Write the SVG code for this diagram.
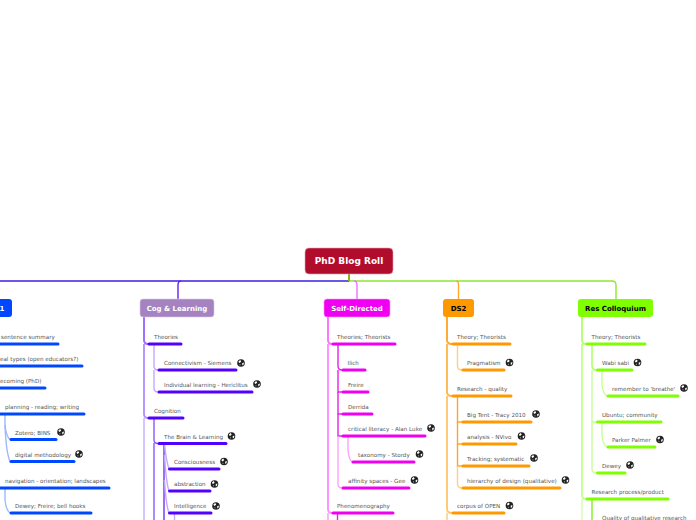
<svg xmlns="http://www.w3.org/2000/svg" width="696" height="520" viewBox="0 0 696 520">
<style>
text{font-family:"DejaVu Sans","Liberation Sans",sans-serif}
.t{font-size:5.6px;fill:#555}
.b{font-size:7px;font-weight:bold;text-anchor:middle;fill:#fff}
.k{fill:#000}
.u{stroke-width:3;stroke-linecap:round;fill:none}
.c{fill:none;stroke-width:1.4}
.w{stroke-width:1.9}
.ub{stroke:#0048ff}.up{stroke:#5200ff}.um{stroke:#f000f0}.uo{stroke:#ff9900}.ug{stroke:#80ff00}
.lb{stroke:#9db8ff}.lp{stroke:#c4a8ff}.lm{stroke:#ffa0ff}.lo{stroke:#ffcf85}.lg{stroke:#c8ff96}
.sb{stroke:#2a66ff}.sp{stroke:#7030ff}.sm{stroke:#e820e8}.so{stroke:#ffa52a}.sg{stroke:#80f020}
</style>
<defs>
<g id="g"><circle r="3.8" fill="#222"/><path d="M-2.6-1.6 L-.8-2.9 L.2-1.6 L-.8-.4 L-1.8 0Z M1.1 .2 L2.9-.4 L2.6 1.4 L1.4 2.5Z M-1.5 1.2 L-.6 1.6 L-1 2.8 Z" fill="#fff"/></g>
</defs>
<g id="connectors">
<path class="c" d="M0 281H349" stroke="#3a20e0"/>
<path class="c" d="M349 281H612Q616 281 616 285V299" stroke="#8ce830"/>
<path d="M349 274V281" stroke="#90b020" stroke-width="2" fill="none"/>
<path class="c" d="M178 299V285Q178 281 181 281" stroke="#6a20f0"/>
<path class="c" d="M357 299V285Q357 281 354 281" stroke="#f070ff"/>
<path class="c" d="M458.500 299V285Q458.500 281 456 281" stroke="#ffa82e"/>

<path class="c lb" d="M5 414V425Q6 436 10 439.500"/>
<path class="c lb" d="M5 425Q6 452 10 461.500"/>
<path class="c lb" d="M5 488V500Q6 510 10 513"/>

<path class="c w" stroke="#9a6cff" d="M144 317V340Q144 344 148 344"/>
<path class="c w" stroke="#b592ff" d="M144 344V414Q144 418 148 418"/>
<path class="c w" stroke="#d4c4ff" d="M144 418V520"/>
<path class="c lp" d="M154 344V366Q154 370 158 370"/>
<path class="c lp" d="M154 370V388Q154 392 158 392"/>
<path class="c" stroke="#8a58ff" d="M154 418V440Q154 443.500 158 443.500"/>
<path class="c" stroke="#8a58ff" d="M154 443V520"/>
<path class="c sp" d="M164 443.500V520"/>
<path class="c lp" d="M164.500 443.500Q166 460 169 469"/>
<path class="c lp" d="M164.500 455Q166 482 169 491"/>
<path class="c lp" d="M164.500 480Q166 505 169 513"/>
<path class="c lp" d="M174.500 513V520"/>

<path class="c w" stroke="#ff70ff" d="M328 317V340Q328 344 332 344"/>
<path class="c w" stroke="#ff90ff" d="M328 344V509Q328 513 332 513"/>
<path class="c w" stroke="#ffb0ff" d="M328 513V520"/>
<path class="c sm" d="M338 344V366Q338 370 342 370"/>
<path class="c sm" d="M338 370V392H342"/>
<path class="c sm" d="M338 392V414H342"/>
<path class="c sm" d="M338 414V436H342"/>
<path class="c lm" d="M338 436V484Q338 488 342 488"/>
<path class="c lm" d="M348 436V450Q349 460 352 462"/>
<path class="c sm" d="M337.500 513V520"/>

<path class="c w" stroke="#ffa72e" d="M447 317V340Q447 344 452 344"/>
<path class="c w" stroke="#ffb850" d="M447 344V392Q447 396 452 396"/>
<path class="c w" stroke="#ffc870" d="M447 396V509Q447 513 452 513"/>
<path class="c w" stroke="#ffd898" d="M447 513V520"/>
<path class="c lo" d="M457.500 344V366Q457.500 370 462 370"/>
<path class="c so" d="M457.500 396V422H462"/>
<path class="c so" d="M457.500 422V444H462"/>
<path class="c so" d="M457.500 444V466H462"/>
<path class="c lo" d="M457.500 466V484Q457.500 488 462 488"/>

<path class="c w" stroke="#b4ff70" d="M582 317V340Q582 344 586 344"/>
<path class="c w" stroke="#c4ff90" d="M582 344V495Q582 499 586 499"/>
<path class="c w" stroke="#dcffc0" d="M582 499V520"/>
<path class="c" stroke="#a8ff58" d="M592 344V366Q592 370 597 370"/>
<path class="c lg" d="M592 370V422H597"/>
<path class="c lg" d="M592 422V469Q592 473 597 473"/>
<path class="c lg" d="M602 370V385Q603 394 607 396"/>
<path class="c lg" d="M602 422V436Q603 445 607 447"/>
<path class="c sg" d="M592 499V520"/>
</g>

<g id="root"><rect x="305" y="248" width="88" height="26" rx="4" fill="#b20c2c" stroke="#e8a0b0" stroke-width=".6"/><text class="b" x="349" y="264" style="font-size:9px">PhD Blog Roll</text></g>

<g id="n1"><rect x="-20" y="299" width="32" height="18" rx="3" fill="#0048ff"/><text class="b" x="2" y="310.500">1</text></g>
<g id="cog"><rect x="140" y="299" width="74" height="18" rx="3" fill="#a582c0" stroke="#d8c8ec" stroke-width=".6"/><text class="b" x="177" y="310.500">Cog &amp; Learning</text></g>
<g id="self"><rect x="324" y="299" width="66" height="18" rx="3" fill="#f000f0" stroke="#ff90ff" stroke-width=".6"/><text class="b" x="357" y="310.500">Self-Directed</text></g>
<g id="ds2"><rect x="443" y="299" width="31" height="18" rx="3" fill="#ff9900"/><text class="b k" x="458.500" y="310.500">DS2</text></g>
<g id="res"><rect x="578" y="299" width="75" height="18" rx="3" fill="#80ff00"/><text class="b k" x="615.500" y="310.500">Res Colloquium</text></g>

<g id="a1"><text class="t" x="1" y="339">sentence summary</text><path class="u ub" d="M0 344H58"/></g>
<g id="a2"><text class="t" x="0" y="361">eal types (open educators?)</text><path class="u ub" d="M0 366H82"/></g>
<g id="a3"><text class="t" x="0" y="382.500">ecoming (PhD)</text><path class="u ub" d="M0 388H45"/></g>
<g id="a4"><text class="t" x="5" y="408.500">planning - reading; writing</text><path class="u ub" d="M0 414H84"/></g>
<g id="a5"><text class="t" x="15" y="434.500">Zotero; BINS</text><path class="u ub" d="M11 439.500H56"/><use href="#g" x="61" y="432"/></g>
<g id="a6"><text class="t" x="15" y="456.500">digital methodology</text><path class="u ub" d="M11 461.500H74"/><use href="#g" x="79" y="454"/></g>
<g id="a7"><text class="t" x="5" y="482.500">navigation - orientation; landscapes</text><path class="u ub" d="M0 488H109"/></g>
<g id="a8"><text class="t" x="15" y="508">Dewey; Freire; bell hooks</text><path class="u ub" d="M11 513H91"/></g>

<g id="b1"><text class="t" x="154" y="339">Theories</text><path class="u up" d="M149 344H181"/></g>
<g id="b2"><text class="t" x="164" y="364.500">Connectivism - Siemens</text><path class="u up" d="M159 370H236"/><use href="#g" x="241" y="363"/></g>
<g id="b3"><text class="t" x="164" y="386.500">Individual learning - Hericlitus</text><path class="u up" d="M159 392H252"/><use href="#g" x="257" y="384"/></g>
<g id="b4"><text class="t" x="154" y="412.500">Cognition</text><path class="u up" d="M149 418H183"/></g>
<g id="b5"><text class="t" x="164" y="438.500">The Brain &amp; Learning</text><path class="u up" d="M159 443.500H226"/><use href="#g" x="231.500" y="436"/></g>
<g id="b6"><text class="t" x="174" y="463.500">Consciousness</text><path class="u up" d="M169.500 469H219"/><use href="#g" x="224" y="461.500"/></g>
<g id="b7"><text class="t" x="174" y="485.500">abstraction</text><path class="u up" d="M169.500 491H210"/><use href="#g" x="214.500" y="484"/></g>
<g id="b8"><text class="t" x="174" y="508">Intelligence</text><path class="u up" d="M169.500 513H211"/><use href="#g" x="216" y="506"/></g>

<g id="c1"><text class="t" x="337" y="339">Theories; Theorists</text><path class="u um" d="M333 344H395"/></g>
<g id="c2"><text class="t" x="347.500" y="364.500">Ilich</text><path class="u um" d="M343 370H365"/></g>
<g id="c3"><text class="t" x="348" y="386.500">Freire</text><path class="u um" d="M343 392H368"/></g>
<g id="c4"><text class="t" x="348" y="408.500">Derrida</text><path class="u um" d="M343 414H372"/></g>
<g id="c5"><text class="t" x="348" y="430.500">critical literacy - Alan Luke</text><path class="u um" d="M343 436H425"/><use href="#g" x="431" y="428"/></g>
<g id="c6"><text class="t" x="358" y="456.500">taxonomy - Stordy</text><path class="u um" d="M353 462H414"/><use href="#g" x="419.500" y="454"/></g>
<g id="c7"><text class="t" x="348" y="482.500">affinity spaces - Gee</text><path class="u um" d="M343 488H409"/><use href="#g" x="414.500" y="480"/></g>
<g id="c8"><text class="t" x="337" y="508">Phenomenography</text><path class="u um" d="M333 513H393"/></g>

<g id="d1"><text class="t" x="457" y="339">Theory; Theorists</text><path class="u uo" d="M453 344H510"/></g>
<g id="d2"><text class="t" x="467" y="364.500">Pragmatism</text><path class="u uo" d="M463 370H504"/><use href="#g" x="509.500" y="362.500"/></g>
<g id="d3"><text class="t" x="457" y="390.500">Research - quality</text><path class="u uo" d="M453 396H511"/></g>
<g id="d4"><text class="t" x="467" y="416.500">Big Tent - Tracy 2010</text><path class="u uo" d="M463 422H531"/><use href="#g" x="536" y="414"/></g>
<g id="d5"><text class="t" x="467" y="438.500">analysis - NVivo</text><path class="u uo" d="M463 444H516"/><use href="#g" x="521.500" y="436"/></g>
<g id="d6"><text class="t" x="467" y="460.500">Tracking; systematic</text><path class="u uo" d="M463 466H529"/><use href="#g" x="534" y="458"/></g>
<g id="d7"><text class="t" x="467" y="482.500">hierarchy of design (qualitative)</text><path class="u uo" d="M463 488H560"/><use href="#g" x="565.500" y="480"/></g>
<g id="d8"><text class="t" x="457" y="508">corpus of OPEN</text><path class="u uo" d="M453 513H504"/><use href="#g" x="509.500" y="505.500"/></g>

<g id="e1"><text class="t" x="591.500" y="339">Theory; Theorists</text><path class="u ug" d="M587 344H645"/></g>
<g id="e2"><text class="t" x="602" y="364.500">Wabi sabi</text><path class="u ug" d="M597.500 370H632"/><use href="#g" x="637.500" y="362.500"/></g>
<g id="e3"><text class="t" x="612" y="390.500">remember to 'breathe'</text><path class="u ug" d="M608 396H678"/><use href="#g" x="684" y="388"/></g>
<g id="e4"><text class="t" x="602" y="416.500">Ubuntu; community</text><path class="u ug" d="M597.500 422H661"/></g>
<g id="e5"><text class="t" x="612" y="442">Parker Palmer</text><path class="u ug" d="M608 447H655"/><use href="#g" x="660" y="439.500"/></g>
<g id="e6"><text class="t" x="602" y="467.500">Dewey</text><path class="u ug" d="M597.500 473H625"/><use href="#g" x="630" y="465"/></g>
<g id="e7"><text class="t" x="591.500" y="493.500">Research process/product</text><path class="u ug" d="M587 499H668"/></g>
<g id="e8"><text class="t" x="602" y="519.500">Quality of qualitative research</text></g>
</svg>
